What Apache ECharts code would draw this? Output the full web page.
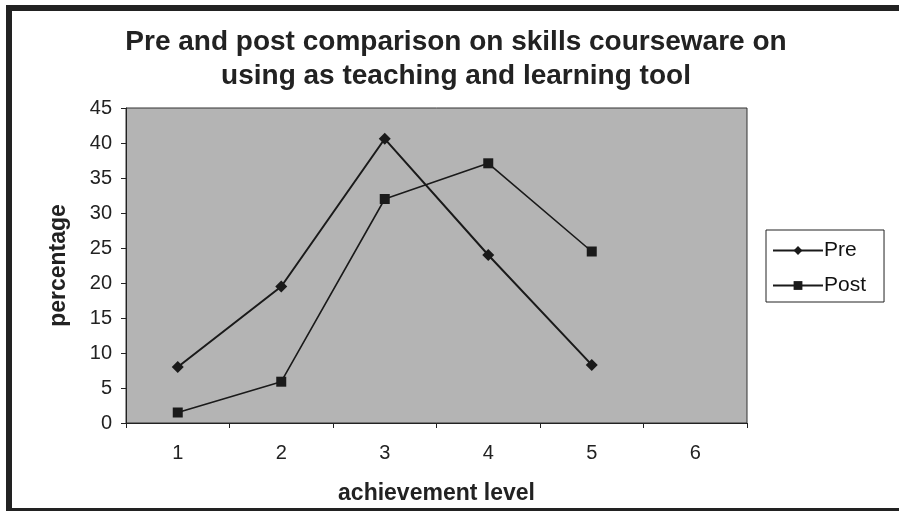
<!DOCTYPE html>
<html>
<head>
<meta charset="utf-8">
<script src="https://cdn.jsdelivr.net/npm/echarts@6/dist/echarts.min.js"></script>
<style>
html,body{margin:0;padding:0;background:#fff;}
#chart{width:899px;height:511px;}
</style>
</head>
<body>
<div id="chart"></div>
<script>
const categories = ['1', '2', '3', '4', '5', '6'];
const preValues = [8, 19.5, 40.6, 24, 8.3, null];
const postValues = [1.5, 5.9, 32, 37.1, 24.5, null];
const yTicks = [0, 45, 5];

const chart = echarts.init(document.getElementById('chart'));
const font = 'Liberation Sans, Arial, sans-serif';
chart.setOption({
  animation: false,
  backgroundColor: '#fff',
  textStyle: { fontFamily: font },
  title: {
    text: 'Pre and post comparison on skills courseware on\nusing as teaching and learning tool',
    left: 451,
    textAlign: 'center',
    top: 20,
    textStyle: { fontFamily: font, fontSize: 28, fontWeight: 'bold', color: '#222', lineHeight: 34 }
  },
  graphic: [{
    type: 'rect',
    shape: { x: 9, y: 8, width: 1000, height: 503 },
    style: { fill: 'none', stroke: '#222', lineWidth: 6 },
    silent: true
  }],
  legend: {
    orient: 'vertical',
    left: 766,
    top: 230,
    data: ['Pre', 'Post'],
    itemWidth: 50,
    itemHeight: 11,
    itemGap: 14,
    padding: [10, 18, 6, 6],
    borderColor: '#222',
    borderWidth: 1,
    backgroundColor: '#fff',
    textStyle: { fontFamily: font, fontSize: 21, color: '#111', padding: [0, 0, 0, -4] }
  },
  grid: { left: 126, right: 152, top: 108, bottom: 88, show: true, backgroundColor: '#b4b4b4', borderColor: '#333', borderWidth: 1 },
  xAxis: {
    type: 'category',
    data: categories,
    boundaryGap: true,
    name: 'achievement level',
    nameLocation: 'middle',
    nameGap: 59,
    nameTextStyle: { fontFamily: font, fontSize: 23, fontWeight: 'bold', color: '#222' },
    axisLine: { lineStyle: { color: '#222', width: 1 } },
    axisTick: { show: true, length: 5, lineStyle: { color: '#222' } },
    axisLabel: { fontFamily: font, fontSize: 20, color: '#222', margin: 20 },
    splitLine: { show: false }
  },
  yAxis: {
    type: 'value',
    min: yTicks[0],
    max: yTicks[1],
    interval: yTicks[2],
    name: 'percentage',
    nameLocation: 'middle',
    nameRotate: 90,
    nameGap: 56,
    nameTextStyle: { fontFamily: font, fontSize: 23, fontWeight: 'bold', color: '#222' },
    axisLine: { show: true, lineStyle: { color: '#222', width: 1 } },
    axisTick: { show: true, length: 5, lineStyle: { color: '#222' } },
    axisLabel: { fontFamily: font, fontSize: 20, color: '#222', margin: 14 },
    splitLine: { show: false }
  },
  series: [
    {
      name: 'Pre', type: 'line', data: preValues,
      symbol: 'diamond', symbolSize: 12,
      lineStyle: { color: '#1a1a1a', width: 2 },
      itemStyle: { color: '#1a1a1a' }
    },
    {
      name: 'Post', type: 'line', data: postValues,
      symbol: 'rect', symbolSize: 10,
      lineStyle: { color: '#1a1a1a', width: 1.6 },
      itemStyle: { color: '#1a1a1a' }
    }
  ]
});
</script>
</body>
</html>
